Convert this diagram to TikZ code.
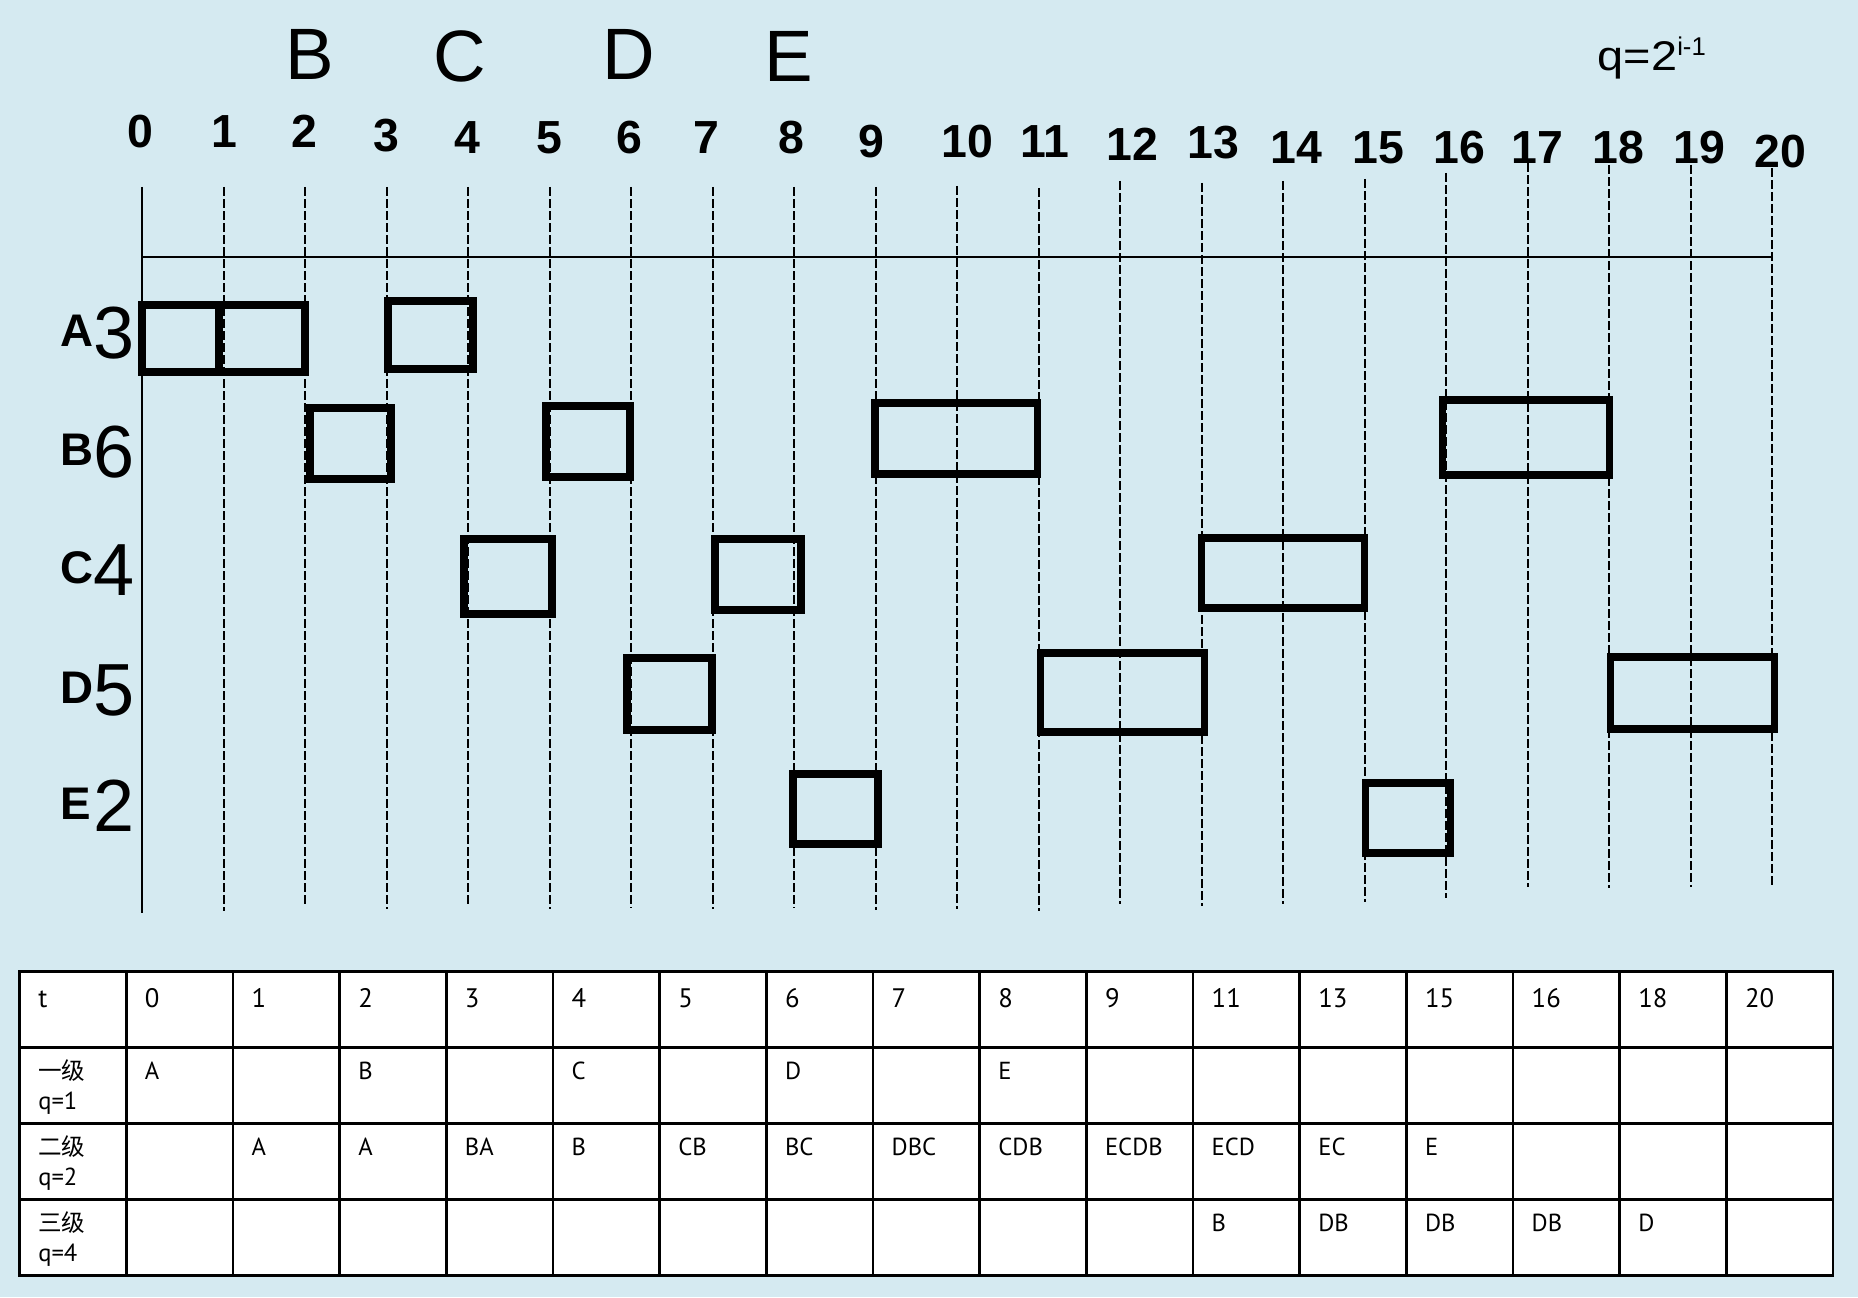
\documentclass[tikz,border=0pt]{standalone}
\usepackage{fontspec}
\usepackage{graphicx}
\setmainfont{Liberation Sans}
\newfontfamily\cjk{Noto Sans CJK SC}
\newfontfamily\tbl{PT Sans}
\definecolor{bg}{RGB}{213,234,241}
\begin{document}
\begin{tikzpicture}[x=0.01cm,y=-0.01cm,
  dline/.style={line width=0.5pt, dash pattern=on 0.085cm off 0.035cm},
  sline/.style={line width=0.5pt},
  slot/.style={line width=2pt},
  num/.style={inner sep=0pt, anchor=base, font=\bfseries\fontsize{13.2}{14}\selectfont},
  big/.style={inner sep=0pt, anchor=base, font=\fontsize{20.7}{21}\selectfont},
  rl/.style={inner sep=0pt, anchor=west, font=\bfseries\fontsize{13}{13}\selectfont},
  rd/.style={inner sep=0pt, anchor=center, font=\fontsize{21}{21}\selectfont},
  hcell/.style={inner sep=0pt, anchor=base west, font=\tbl\fontsize{7.6}{8}\selectfont},
  cell/.style={inner sep=0pt, anchor=base west, font=\tbl\fontsize{7}{7}\selectfont},
  ccell/.style={inner sep=0pt, anchor=base west, font=\cjk\fontsize{6.7}{7}\selectfont},
  gridl/.style={line width=0.7pt}]

\useasboundingbox[fill=bg] (0,0) rectangle (1858,1297);

% top letters
\node[big] (lB) at (310,80) {B};
\node[big] (lC) at (460,82) {C};
\node[big] (lD) at (629,80) {D};
\node[big] (lE) at (789,82) {E};

% formula
\node[inner sep=0pt, anchor=base west, font=\fontsize{11.8}{12}\selectfont] (qf) at (1597,71)
  {\scalebox{1.13}[1]{q=2}\raisebox{4.3pt}{\fontsize{7.3}{7}\selectfont i-1}};

% time numbers
\foreach \i/\xx/\yy in {0/140/148,1/224/148,2/304/148,3/386/152,4/467/153,5/549/153,6/629/153,7/706/153,8/791/154,9/871/157,10/967/157,11/1045/157,12/1132/161,13/1213/159,14/1296/164,15/1378/164,16/1459/164,17/1537/164,18/1618/164,19/1699/164,20/1780/168}
  \node[num] (n\i) at (\xx,\yy) {\i};

% grid lines
\draw[sline] (142.2,187) -- (142.2,913);
\foreach \i/\tp/\bt in {1/187/911,2/187/907,3/187/909,4/187/907,5/187/909,6/187/908,7/187/909,8/187/908,9/187/910,10/186/909,11/188/911,12/181/904,13/183/906,14/181/904,15/179/902,16/173/898,17/163/887,18/165/888,19/165/887,20/168/888}
  \draw[dline] ({142.2+81.5*\i},\tp) -- ({142.2+81.5*\i},\bt);
\draw[sline] (142.2,257) -- (1772.2,257);

% row labels
\foreach \L/\D/\yy in {A/3/333,B/6/452,C/4/570,D/5/690,E/2/806}{
  \node[rl] (rl\L) at (60,\yy-2) {\L};
  \node[rd] (rd\L) at (114,\yy) {\D};
}

% slots
\draw[slot] (142,305) rectangle (219,372);
\draw[slot] (219,305) rectangle (305,372);
\draw[slot] (388,301) rectangle (473,369);
\draw[slot] (310,408) rectangle (391,479);
\draw[slot] (546,406) rectangle (630,477);
\draw[slot] (875,403) rectangle (1037,474);
\draw[slot] (1442,400) rectangle (1609,475);
\draw[slot] (464,539) rectangle (552,614);
\draw[slot] (715,539) rectangle (801,610);
\draw[slot] (1201,538) rectangle (1364,608);
\draw[slot] (627,658) rectangle (712,730);
\draw[slot] (1040,653) rectangle (1204,732);
\draw[slot] (1610,657) rectangle (1774,729);
\draw[slot] (793,774) rectangle (878,844);
\draw[slot] (1365,783) rectangle (1450,853);

% table
\fill[white] (19.6,971.7) rectangle (1833,1275.7);
\foreach \j in {1,...,16}
  \draw[gridl] ({19.6+106.67*\j},971.7) -- ({19.6+106.67*\j},1275.7);
\foreach \r in {1047.7,1123.7,1199.7}
  \draw[gridl] (19.6,\r) -- (1833,\r);
\draw[gridl] (19.6,971.7) rectangle (1833,1275.7);

\foreach \j/\lab in {0/t,1/0,2/1,3/2,4/3,5/4,6/5,7/6,8/7,9/8,10/9,11/11,12/13,13/15,14/16,15/18,16/20}
  \node[hcell] (h\j) at ({19.6+106.67*\j+18},1007) {\lab};

\node[ccell] (k1) at (37.6,1079) {一级};
\node[cell] (q1) at (37.6,1109) {q=1};
\node[ccell] (k2) at (37.6,1155) {二级};
\node[cell] (q2) at (37.6,1185) {q=2};
\node[ccell] (k3) at (37.6,1231) {三级};
\node[cell] (q3) at (37.6,1261) {q=4};

\foreach \j/\lab in {1/A,3/B,5/C,7/D,9/E}
  \node[cell] (a\j) at ({19.6+106.67*\j+18},1079) {\lab};
\foreach \j/\lab in {2/A,3/A,4/BA,5/B,6/CB,7/BC,8/DBC,9/CDB,10/ECDB,11/ECD,12/EC,13/E}
  \node[cell] (b\j) at ({19.6+106.67*\j+18},1155) {\lab};
\foreach \j/\lab in {11/B,12/DB,13/DB,14/DB,15/D}
  \node[cell] (c\j) at ({19.6+106.67*\j+18},1231) {\lab};
\end{tikzpicture}
\end{document}
